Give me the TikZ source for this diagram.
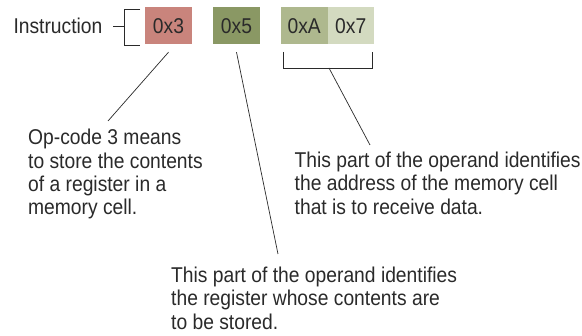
\documentclass[tikz,border=0pt]{standalone}
\usepackage{fontspec}
\setmainfont{Liberation Sans}[FakeStretch=0.9]
\definecolor{txt}{HTML}{2A2A2A}
\definecolor{ln}{HTML}{2A2A2A}
\definecolor{cop}{HTML}{C9847C}
\definecolor{creg}{HTML}{8A9864}
\definecolor{caddrA}{HTML}{AEB88E}
\definecolor{caddrB}{HTML}{D3DAC0}
\tikzset{
  lbl/.style={inner sep=0pt, text=txt, font=\fontsize{21.4}{23.4}\selectfont},
  note/.style={lbl, align=left, anchor=base west},
  cell/.style={lbl, minimum width=46.5pt, minimum height=37.5pt, draw=none},
  conn/.style={draw=ln, line width=0.7pt},
}
\begin{document}
\begin{tikzpicture}[x=1pt,y=-1pt]
\useasboundingbox[fill=white] (0,0) rectangle (582,336);
% cells
\node[cell, fill=cop]    (b3) at (168.5,25.75) {0x3};
\node[cell, fill=creg]   (b5) at (236.5,25.75) {0x5};
\node[cell, fill=caddrA] (bA) at (304.25,25.75) {0xA};
\node[cell, fill=caddrB] (b7) at (350.75,25.75) {0x7};
% instruction label
\node[lbl, anchor=base west] (instr) at (13.3,33.3) {Instruction};
% notes (anchored at the baseline of their last line)
\node[note] (nop) at (28,214.9) {Op-code 3 means\\to store the contents\\of a register in a\\memory cell.};
\node[note] (naddr) at (294.5,214.1) {This part of the operand identifies\\the address of the memory cell\\that is to receive data.};
\node[note] (nreg) at (171,329.3) {This part of the operand identifies\\the register whose contents are\\to be stored.};
% bracket around instruction
\coordinate (brT) at ([xshift=-5pt]b3.west |- 0,9);
\coordinate (brB) at ([xshift=-5pt]b3.west |- 0,45);
\coordinate (brV) at (124.3,26.7);
\coordinate (dashL) at (113.3,26.7);
\draw[conn] (brT) -- (brV |- brT) -- (brV |- brB) -- (brB);
\draw[conn] (dashL) -- (brV);
% bracket under operand address
\coordinate (uL) at (283,52);
\coordinate (uR) at (372,52);
\draw[conn] (uL) -- (283,68) -- (372,68) -- (uR);
\coordinate (uM) at (329,68);
\coordinate (eA) at (370,145);
\draw[conn] (uM) -- (eA);
% leader lines
\coordinate (s3) at ([yshift=-7.5pt]b3.south);
\coordinate (e3) at (108,121);
\draw[conn] (s3) -- (e3);
\coordinate (s5) at ([yshift=-7.5pt]b5.south);
\coordinate (e5) at (278,254);
\draw[conn] (s5) -- (e5);
\end{tikzpicture}
\end{document}
